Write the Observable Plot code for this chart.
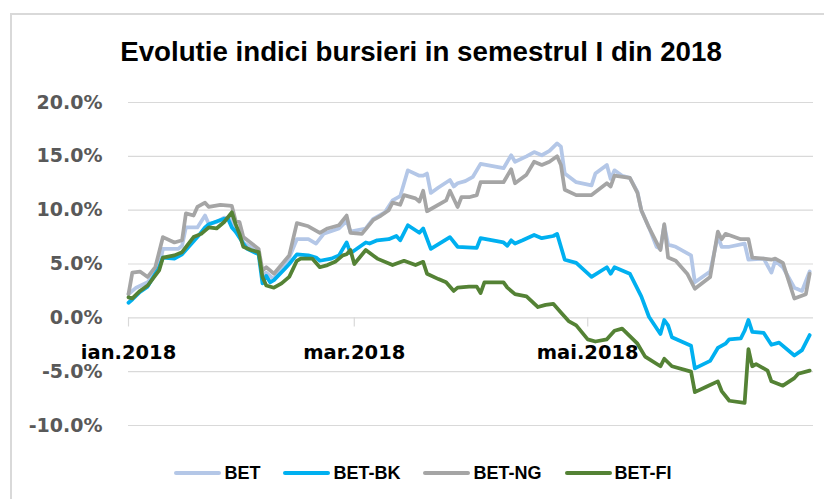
<!DOCTYPE html>
<html>
<head>
<meta charset="utf-8">
<script src="https://cdn.jsdelivr.net/npm/d3@7"></script>
<script src="https://cdn.jsdelivr.net/npm/@observablehq/plot@0.6"></script>
<style>
  body { margin: 0; background: #fff; }
  #wrap { position: relative; width: 824px; height: 499px; overflow: hidden; background: #fff; }
  #chart { position: absolute; left: 0; top: 0; }
  #frame { position: absolute; left: 10px; top: 13px; width: 900px; height: 600px; border: 2px solid #d9d9d9; box-sizing: border-box; pointer-events: none; }
  #title { position: absolute; left: 0; width: 842px; top: 38px; line-height: 28px; text-align: center;
           font-family: "Liberation Sans", Arial, sans-serif; font-weight: bold; font-size: 27.7px; color: #000; white-space: nowrap; }
  #legend { position: absolute; left: 0; width: 846px; top: 464px; height: 18px; display: flex; justify-content: center; gap: 23px;
            font-family: "Liberation Sans", Arial, sans-serif; font-weight: bold; font-size: 18px; line-height: 18px; color: #000; }
  .item { display: flex; align-items: center; }
  .item span { margin-left: 3px; }
</style>
</head>
<body>
<div id="wrap">
  <div id="chart"></div>
  <div id="title"></div>
  <div id="legend"></div>
  <div id="frame"></div>
</div>
<script>
const title = "Evolutie indici bursieri in semestrul I din 2018";
const seriesNames = ["BET", "BET-BK", "BET-NG", "BET-FI"];
const seriesColors = ["#B4C7E7", "#00B0F0", "#A5A5A5", "#548235"];
const yTicks = [-10, -5, 0, 5, 10, 15, 20];
const xTickDates = ["2018-01-03", "2018-03-03", "2018-05-03"];
const xTickLabels = ["ian.2018", "mar.2018", "mai.2018"];

// [MM-DD (2018), % change]
const BET = [
  ["01-03",2.2],["01-05",2.8],["01-08",3.3],["01-11",4.7],["01-12",6.4],["01-16",6.4],["01-17",6.7],["01-18",8.4],
  ["01-21",8.4],["01-23",9.5],["01-24",8.7],["01-26",8.9],["01-28",9.3],["01-30",9.2],["01-31",8.0],["02-01",8.1],
  ["02-02",7.0],["02-06",6.1],["02-07",3.9],["02-08",4.2],["02-10",3.6],["02-14",5.6],["02-16",7.3],["02-19",7.3],
  ["02-21",6.9],["02-23",7.8],["02-27",8.3],["03-01",9.0],["03-02",8.0],["03-06",8.3],["03-08",9.2],["03-11",9.8],
  ["03-13",10.9],["03-15",11.3],["03-17",13.7],["03-20",13.2],["03-21",13.2],["03-22",13.4],["03-23",11.6],["03-25",12.1],
  ["03-28",12.8],["03-29",12.2],["03-30",12.5],["04-01",12.7],["04-03",13.1],["04-05",14.3],["04-11",13.9],["04-13",15.1],
  ["04-14",14.5],["04-17",15.0],["04-19",15.4],["04-21",15.1],["04-23",15.5],["04-25",16.2],["04-26",15.9],["04-27",13.4],
  ["04-30",12.6],["05-04",12.3],["05-05",13.4],["05-08",14.2],["05-09",12.9],["05-10",13.7],["05-12",13.2],["05-14",13.0],
  ["05-16",11.7],["05-17",10.0],["05-19",8.4],["05-21",6.6],["05-22",6.4],["05-23",8.6],["05-24",6.8],["05-26",6.6],
  ["05-30",5.8],["05-31",3.3],["06-04",4.3],["06-06",7.6],["06-07",6.6],["06-09",6.6],["06-13",6.9],["06-14",5.4],
  ["06-18",5.5],["06-20",4.2],["06-21",5.3],["06-23",4.7],["06-26",2.8],["06-28",2.5],["06-30",4.3]
];
const BET_BK = [
  ["01-03",1.4],["01-04",1.7],["01-06",2.4],["01-08",2.9],["01-11",4.7],["01-12",5.6],["01-15",5.5],["01-17",5.9],
  ["01-21",7.5],["01-23",8.4],["01-24",8.7],["01-28",9.2],["01-29",9.2],["01-30",8.4],["01-31",8.0],["02-02",6.9],
  ["02-03",6.4],["02-06",5.9],["02-07",3.2],["02-08",3.9],["02-09",3.3],["02-10",3.5],["02-13",4.6],["02-14",5.0],
  ["02-16",5.9],["02-19",5.8],["02-21",5.6],["02-22",5.3],["02-25",5.5],["02-27",5.8],["03-01",7.0],["03-02",6.0],
  ["03-06",7.0],["03-07",6.9],["03-09",7.2],["03-12",7.3],["03-14",7.6],["03-15",7.2],["03-17",8.6],["03-20",7.9],
  ["03-21",8.3],["03-23",6.4],["03-28",7.5],["03-30",6.6],["04-04",6.5],["04-05",7.4],["04-11",7.0],["04-12",6.7],
  ["04-13",7.2],["04-14",6.9],["04-16",7.2],["04-19",7.7],["04-21",7.4],["04-24",7.6],["04-25",7.8],["04-27",5.4],
  ["04-30",5.1],["05-04",3.8],["05-08",4.7],["05-09",4.1],["05-10",4.7],["05-14",4.1],["05-17",2.0],["05-19",0.1],
  ["05-22",-1.5],["05-23",-0.2],["05-24",-0.7],["05-25",-1.8],["05-30",-2.6],["05-31",-4.7],["06-04",-4.0],["06-06",-2.8],
  ["06-08",-2.4],["06-09",-2.0],["06-12",-1.9],["06-13",-1.2],["06-14",-0.2],["06-15",-1.3],["06-18",-1.4],["06-20",-2.5],
  ["06-22",-2.3],["06-26",-3.5],["06-28",-3.0],["06-30",-1.6]
];
const BET_NG = [
  ["01-03",2.2],["01-04",4.2],["01-06",4.3],["01-08",3.8],["01-10",4.7],["01-12",7.5],["01-15",7.0],["01-17",7.2],
  ["01-18",9.7],["01-20",9.5],["01-21",10.3],["01-23",10.7],["01-24",10.3],["01-27",10.5],["01-30",10.4],["01-31",9.0],
  ["02-01",8.9],["02-02",7.5],["02-06",6.4],["02-07",4.4],["02-08",4.7],["02-10",4.1],["02-14",5.8],["02-16",8.8],
  ["02-19",8.5],["02-22",7.9],["02-24",8.3],["02-27",8.6],["03-01",9.5],["03-02",7.9],["03-05",7.8],["03-08",9.1],
  ["03-10",9.5],["03-12",10.0],["03-13",10.7],["03-15",10.5],["03-16",11.4],["03-19",11.1],["03-20",10.8],["03-21",11.8],
  ["03-22",9.9],["03-27",10.9],["03-28",11.8],["03-30",10.3],["03-31",11.2],["04-02",11.2],["04-04",11.4],["04-05",12.6],
  ["04-11",12.6],["04-13",13.8],["04-14",12.5],["04-17",13.3],["04-19",14.5],["04-21",14.2],["04-23",14.5],["04-25",15.0],
  ["04-26",14.2],["04-27",11.9],["04-30",11.4],["05-04",11.4],["05-08",12.5],["05-09",12.2],["05-10",13.2],["05-14",13.0],
  ["05-16",11.6],["05-17",10.0],["05-19",8.4],["05-22",6.3],["05-23",8.7],["05-24",5.6],["05-26",5.3],["05-29",4.1],
  ["05-31",2.7],["06-04",3.8],["06-06",8.0],["06-07",7.3],["06-08",7.8],["06-12",7.3],["06-14",7.3],["06-15",5.6],
  ["06-18",5.5],["06-20",5.4],["06-21",5.5],["06-23",5.1],["06-26",1.8],["06-29",2.2],["06-30",4.1]
];
const BET_FI = [
  ["01-03",1.9],["01-04",1.8],["01-06",2.5],["01-08",3.0],["01-11",4.4],["01-12",5.6],["01-15",5.8],["01-17",6.1],
  ["01-20",7.5],["01-22",7.8],["01-24",8.4],["01-26",8.3],["01-28",8.9],["01-30",9.8],["01-31",8.7],["02-01",7.8],
  ["02-02",6.6],["02-04",6.3],["02-06",6.1],["02-07",3.8],["02-08",3.0],["02-10",2.8],["02-12",3.2],["02-14",3.8],
  ["02-16",5.3],["02-17",5.5],["02-20",5.5],["02-22",4.7],["02-24",4.9],["02-26",5.2],["02-28",5.8],["03-01",5.9],
  ["03-02",6.3],["03-03",5.0],["03-06",6.3],["03-09",5.5],["03-13",4.9],["03-16",5.3],["03-19",4.9],["03-21",5.2],
  ["03-22",4.1],["03-25",3.6],["03-27",3.3],["03-29",2.5],["03-30",2.8],["04-02",2.9],["04-04",2.9],["04-05",2.3],
  ["04-06",3.3],["04-11",3.3],["04-12",2.8],["04-14",2.2],["04-17",2.0],["04-20",1.0],["04-22",1.2],["04-24",1.3],
  ["04-26",0.5],["04-28",-0.3],["04-30",-0.7],["05-03",-2.0],["05-05",-2.2],["05-08",-2.0],["05-10",-1.2],["05-12",-1.0],
  ["05-14",-1.7],["05-16",-2.4],["05-18",-3.6],["05-22",-4.5],["05-23",-3.8],["05-25",-4.5],["05-30",-5.0],["05-31",-6.9],
  ["06-03",-6.4],["06-06",-5.9],["06-07",-6.8],["06-09",-7.7],["06-13",-7.9],["06-14",-2.9],["06-15",-4.5],["06-16",-4.3],
  ["06-19",-4.9],["06-20",-5.9],["06-23",-6.3],["06-26",-5.6],["06-27",-5.2],["06-30",-4.9]
];

const seriesData = [BET, BET_BK, BET_NG, BET_FI];
const rows = seriesData.flatMap((arr, i) =>
  arr.map(([md, v]) => ({series: seriesNames[i], date: new Date("2018-" + md), value: v})));
const xTicks = xTickDates.map((d, i) => ({date: new Date(d), label: xTickLabels[i]}));

const chart = Plot.plot({
  width: 824,
  height: 499,
  marginTop: 102,
  marginBottom: 74,
  marginLeft: 128,
  marginRight: 11,
  style: {background: "transparent", overflow: "visible"},
  x: {type: "utc", domain: [new Date("2018-01-03"), new Date("2018-07-01")], axis: null},
  y: {domain: [-10, 20], axis: null},
  color: {domain: seriesNames, range: seriesColors},
  marks: [
    Plot.ruleY(yTicks, {stroke: "#d9d9d9", strokeWidth: 1.2}),
    Plot.text(yTicks, {y: d => d, frameAnchor: "left", dx: -26, textAnchor: "end",
      text: d => d.toFixed(1) + "%", fontSize: 19, fontWeight: "bold",
      fontFamily: "DejaVu Sans", fill: "#595959"}),
    Plot.ruleX(xTicks, {x: "date", y1: () => 0, y2: () => -0.85, stroke: "#d9d9d9", strokeWidth: 1.2}),
    Plot.line(rows, {x: "date", y: "value", z: "series", stroke: "series",
      strokeWidth: 3.75, strokeLinejoin: "round", strokeLinecap: "round"}),
    Plot.text(xTicks, {x: "date", y: () => 0, text: "label", dy: 35, fontSize: 19.5,
      fontWeight: "bold", fontFamily: "DejaVu Sans", fill: "#000"})
  ]
});
document.getElementById("chart").appendChild(chart);
document.getElementById("title").textContent = title;

const legend = document.getElementById("legend");
seriesNames.forEach((name, i) => {
  const item = document.createElement("div");
  item.className = "item";
  item.innerHTML = `<svg width="47" height="18"><line x1="2" x2="45" y1="9" y2="9" stroke="${seriesColors[i]}" stroke-width="4" stroke-linecap="round"/></svg><span>${name}</span>`;
  legend.appendChild(item);
});
</script>
</body>
</html>
